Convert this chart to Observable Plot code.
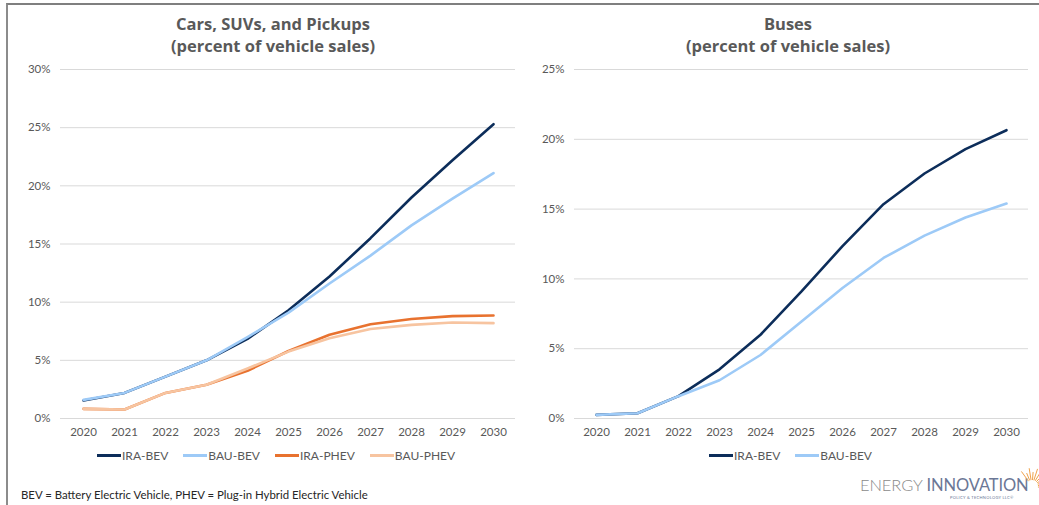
<!DOCTYPE html>
<html>
<head>
<meta charset="utf-8">
<script src="https://cdn.jsdelivr.net/npm/d3@7"></script>
<script src="https://cdn.jsdelivr.net/npm/@observablehq/plot@0.6"></script>
<style>
  html, body { margin: 0; padding: 0; background: #fff; }
  #root { position: relative; width: 1039px; height: 505px; overflow: hidden; background: #fff; }
  #frame { position: absolute; left: 6px; top: 3px; width: 1033px; height: 510px;
           border-top: 2px solid #7f7f7f; border-left: 2px solid #8c8c8c; box-sizing: border-box; }
  .title { position: absolute; top: 13px; width: 400px; text-align: center; font-family: "Open Sans", sans-serif;
           font-weight: 700; font-size: 16.5px; line-height: 22px; color: #595959; }
  .plot { position: absolute; top: 0; }
  .legend { position: absolute; top: 448px; display: flex; align-items: center; font-family: Lato, sans-serif;
            font-size: 12px; color: #595959; white-space: nowrap; }
  .legend .item { display: flex; align-items: center; margin-right: 15px; }
  .legend .sw { display: inline-block; width: 24px; height: 3px; margin-right: 1px; }
  #foot { position: absolute; left: 21px; top: 488px; font-family: Lato, sans-serif; font-size: 11.4px; color: #262626; }
  #logo { position: absolute; left: 860px; top: 476px; font-family: Lato, sans-serif; }
  #logo .main { font-size: 16.5px; letter-spacing: -0.1px; line-height: 18px; }
  #logo .e { color: #8a8a8a; font-weight: 300; }
  #logo .i { color: #6b7796; font-weight: 400; }
  #logo .sub { position: absolute; left: 90px; top: 19px; font-size: 4px; color: #6b7796; letter-spacing: 0.3px; white-space: nowrap; }
</style>
</head>
<body>
<div id="root">
  <div id="frame"></div>
</div>
<script>
const years = [2020, 2021, 2022, 2023, 2024, 2025, 2026, 2027, 2028, 2029, 2030];

// Cars, SUVs, and Pickups (percent of vehicle sales)
const carsIraBev  = [1.55, 2.2, 3.6, 5.0, 6.85, 9.3, 12.2, 15.5, 19.0, 22.2, 25.3];
const carsBauBev  = [1.6, 2.2, 3.6, 5.0, 7.0, 9.1, 11.6, 14.0, 16.6, 18.9, 21.1];
const carsIraPhev = [0.83, 0.77, 2.2, 2.9, 4.1, 5.8, 7.2, 8.1, 8.55, 8.8, 8.85];
const carsBauPhev = [0.83, 0.77, 2.2, 2.9, 4.3, 5.75, 6.9, 7.7, 8.05, 8.25, 8.2];

// Buses (percent of vehicle sales)
const busIraBev = [0.26, 0.38, 1.6, 3.52, 6.0, 9.1, 12.35, 15.35, 17.55, 19.3, 20.65];
const busBauBev = [0.26, 0.38, 1.6, 2.74, 4.55, 6.95, 9.35, 11.5, 13.1, 14.4, 15.4];

const carTicks = [0, 5, 10, 15, 20, 25, 30];
const busTicks = [0, 5, 10, 15, 20, 25];

const seriesNames = ["IRA-BEV", "BAU-BEV", "IRA-PHEV", "BAU-PHEV"];
const seriesColors = ["#0c2d5a", "#9dcaf7", "#e8722f", "#f7c4a0"];

const carsTitle = ["Cars, SUVs, and Pickups", "(percent of vehicle sales)"];
const busTitle = ["Buses", "(percent of vehicle sales)"];
const footnote = "BEV = Battery Electric Vehicle, PHEV = Plug-in Hybrid Electric Vehicle";

function toRows(seriesArrays, names) {
  const rows = [];
  seriesArrays.forEach((arr, si) => {
    arr.forEach((v, i) => rows.push({ year: years[i], value: v, series: names[si] }));
  });
  return rows;
}

const tickFont = "Lato, sans-serif";

function makePlot({ rows, names, ticks, ymax, width, marginLeft, marginRight }) {
  return Plot.plot({
    width,
    height: 445,
    marginTop: 69,
    marginBottom: 27,
    marginLeft,
    marginRight,
    style: { fontFamily: tickFont, fontSize: "11.5px", color: "#595959", background: "transparent", overflow: "visible" },
    x: { type: "point", domain: years, padding: 0.5, label: null },
    y: { domain: [0, ymax], label: null },
    color: { domain: seriesNames, range: seriesColors },
    marks: [
      Plot.gridY(ticks, { stroke: "#d9d9d9", strokeOpacity: 1, strokeWidth: 1 }),
      Plot.axisY({ ticks, tickSize: 0, tickPadding: 10, tickFormat: d => d + "%", label: null, fill: "#595959" }),
      Plot.axisX({ tickSize: 0, tickPadding: 9, tickFormat: d => String(d), label: null, fill: "#595959" }),
      ...names.map(n => Plot.line(rows.filter(r => r.series === n), {
        x: "year", y: "value", stroke: "series", strokeWidth: 2.6, curve: "linear"
      }))
    ]
  });
}

const root = document.getElementById("root");

const carRows = toRows([carsIraBev, carsBauBev, carsIraPhev, carsBauPhev], seriesNames);
const leftPlot = makePlot({ rows: carRows, names: seriesNames, ticks: carTicks, ymax: 30, width: 520, marginLeft: 60, marginRight: 5 });
leftPlot.classList.add("plot");
leftPlot.style.left = "0px";
root.appendChild(leftPlot);

const busNames = seriesNames.slice(0, 2);
const busRows = toRows([busIraBev, busBauBev], busNames);
const rightPlot = makePlot({ rows: busRows, names: busNames, ticks: busTicks, ymax: 25, width: 519, marginLeft: 54, marginRight: 11 });
rightPlot.classList.add("plot");
rightPlot.style.left = "520px";
root.appendChild(rightPlot);

function addTitle(lines, centerX) {
  const d = document.createElement("div");
  d.className = "title";
  d.style.left = (centerX - 200) + "px";
  d.innerHTML = lines.map(l => `<div>${l}</div>`).join("");
  root.appendChild(d);
}
addTitle(carsTitle, 273);
addTitle(busTitle, 788);

function addLegend(names, left) {
  const d = document.createElement("div");
  d.className = "legend";
  d.style.left = left + "px";
  names.forEach(n => {
    const it = document.createElement("div");
    it.className = "item";
    const sw = document.createElement("span");
    sw.className = "sw";
    sw.style.background = seriesColors[seriesNames.indexOf(n)];
    const t = document.createElement("span");
    t.textContent = n;
    it.appendChild(sw);
    it.appendChild(t);
    d.appendChild(it);
  });
  root.appendChild(d);
}
addLegend(seriesNames, 97);
addLegend(busNames, 709);

const f = document.createElement("div");
f.id = "foot";
f.textContent = footnote;
root.appendChild(f);

const logo = document.createElement("div");
logo.id = "logo";
logo.innerHTML = `<div class="main"><span class="e">ENERGY </span><span class="i">INNOVATION</span></div>
<div class="sub">POLICY &amp; TECHNOLOGY LLC®</div>`;
root.appendChild(logo);

// sunburst decoration of the logo
const ns = "http://www.w3.org/2000/svg";
const sun = document.createElementNS(ns, "svg");
sun.setAttribute("width", "30");
sun.setAttribute("height", "30");
sun.style.position = "absolute";
sun.style.left = "1015px";
sun.style.top = "462px";
for (let k = 0; k < 11; k++) {
  const a = Math.PI * (0.95 + k * 0.075);
  const l = document.createElementNS(ns, "line");
  const cx = 17, cy = 24;
  l.setAttribute("x1", cx + Math.cos(a) * -6);
  l.setAttribute("y1", cy + Math.sin(a) * 6);
  l.setAttribute("x2", cx + Math.cos(a) * -(k % 2 ? 14 : 18));
  l.setAttribute("y2", cy + Math.sin(a) * (k % 2 ? 14 : 18));
  l.setAttribute("stroke", "#f0a24a");
  l.setAttribute("stroke-width", "1");
  sun.appendChild(l);
}
root.appendChild(sun);
</script>
</body>
</html>
